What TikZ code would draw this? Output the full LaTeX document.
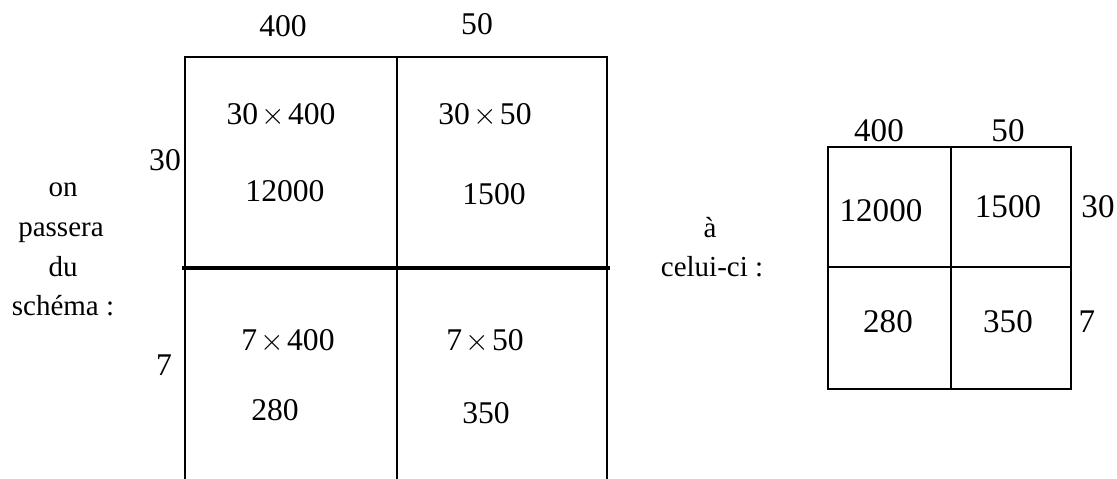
\documentclass[tikz,border=0pt]{standalone}
\usepackage{fontspec}
\setmainfont{Liberation Serif}
\usetikzlibrary{positioning}
\newcommand{\tms}{\hspace{.1em}$\times$\hspace{.1em}}

\begin{document}
\begin{tikzpicture}[
x=0.02cm, y=-0.02cm,
num/.style={inner sep=0pt, font=\fontsize{18}{20}\selectfont},
bignum/.style={inner sep=0pt, font=\fontsize{18.8}{20}\selectfont},
lbl/.style={inner sep=0pt, anchor=base, font=\fontsize{16.5}{20}\selectfont},
grid/.style={line width=0.85pt},
bar/.style={line width=2.4pt}
]
\useasboundingbox (0,0) rectangle (1117,479);

% left table (open at the bottom)
\coordinate (lTL) at (185,57);
\coordinate (lTM) at (397,57);
\coordinate (lTR) at (607,57);
\coordinate (lBL) at (185,479);
\coordinate (lBM) at (397,479);
\coordinate (lBR) at (607,479);
\coordinate (barL) at (182,268);
\coordinate (barR) at (610,268);
\draw[grid] (lBL) -- (lTL) -- (lTR) -- (lBR);
\draw[grid] (lTM) -- (lBM);
\draw[bar] (barL) -- (barR);

\node[num] (c400) at (283,26) {400};
\node[num] (c50) at (477,24) {50};
\node[num] (r30) at (165,160) {30};
\node[num] (r7) at (164,365) {7};
\node[num] (p1) at (281,115) {30\tms400};
\node[num] (p2) at (485,115) {30\tms50};
\node[num] (v1) at (285,191) {12000};
\node[num] (v2) at (494,194) {1500};
\node[num] (p3) at (288,341) {7\tms400};
\node[num] (p4) at (485,341) {7\tms50};
\node[num] (v3) at (275,410) {280};
\node[num] (v4) at (486,413) {350};

% texts between the tables
\node[lbl] (from1) at (63,197) {on};
\node[lbl] (from2) at (61,237) {passera};
\node[lbl] (from3) at (63,277) {du};
\node[lbl] (from4) at (63,316) {schéma :};
\node[lbl] (to1) at (710,238) {à};
\node[lbl] (to2) at (712,277) {celui-ci :};

% right table
\coordinate (rTL) at (828,147);
\coordinate (rTM) at (951,147);
\coordinate (rTR) at (1071,147);
\coordinate (rML) at (828,267);
\coordinate (rMR) at (1071,267);
\coordinate (rBL) at (828,389);
\coordinate (rBM) at (951,389);
\coordinate (rBR) at (1071,389);
\draw[grid] (rTL) rectangle (rBR);
\draw[grid] (rTM) -- (rBM);
\draw[grid] (rML) -- (rMR);

\node[bignum] (d400) at (879,131) {400};
\node[bignum] (d50) at (1008,131) {50};
\node[bignum] (s30) at (1098,207) {30};
\node[bignum] (s7) at (1087,322) {7};
\node[bignum] (w1) at (881,211) {12000};
\node[bignum] (w2) at (1008,207) {1500};
\node[bignum] (w3) at (888,322) {280};
\node[bignum] (w4) at (1008,322) {350};
\end{tikzpicture}
\end{document}
